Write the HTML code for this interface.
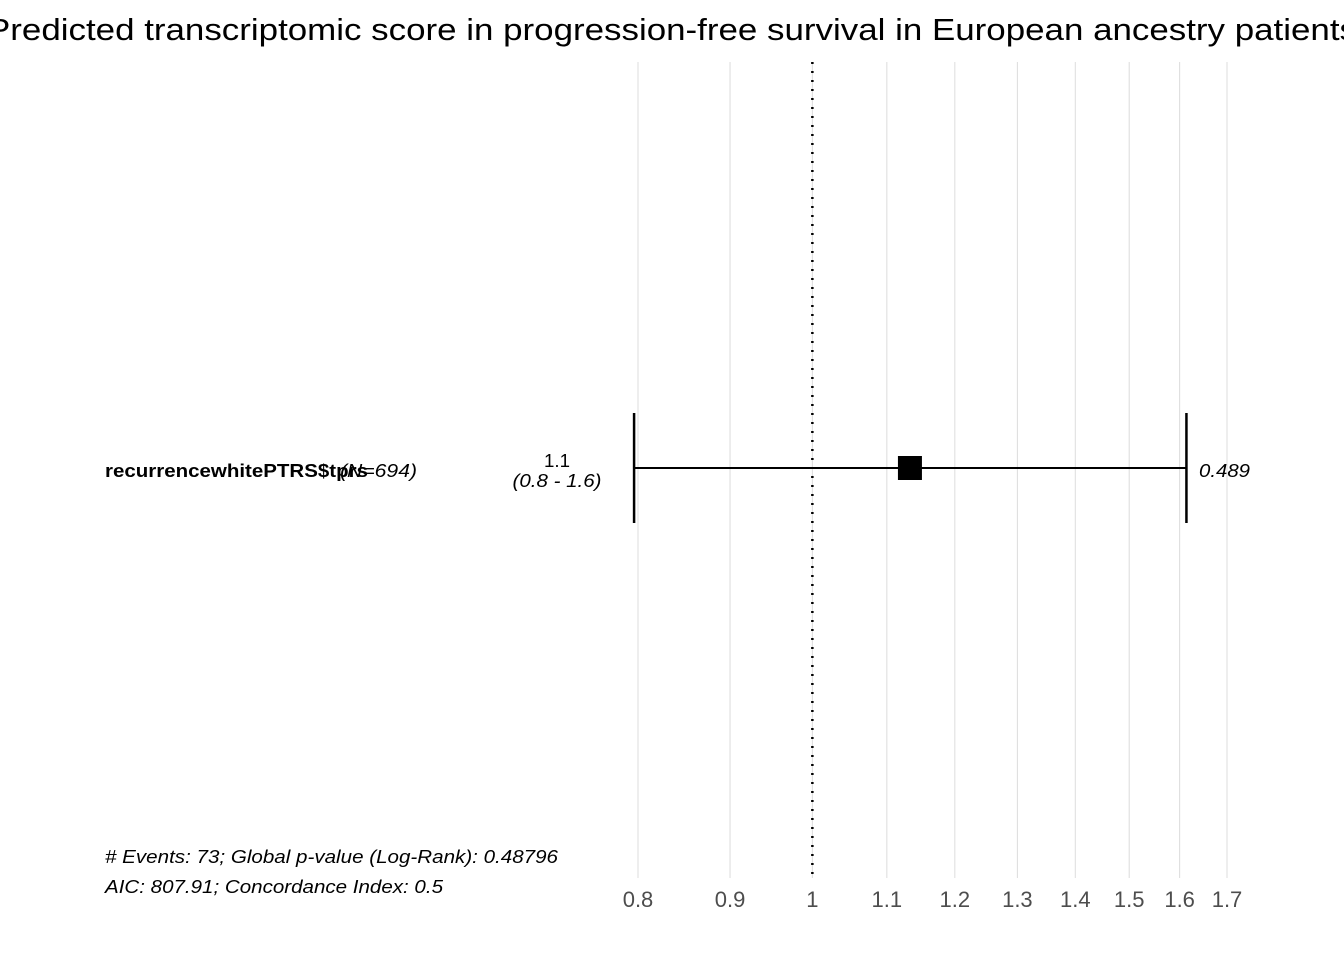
<!DOCTYPE html>
<html><head><meta charset="utf-8"><style>
html,body{margin:0;padding:0;background:#fff;}
svg{display:block;font-family:"Liberation Sans",Arial,sans-serif;}
</style></head><body>
<svg id="chart" width="1344" height="960">
<text x="672" y="40" text-anchor="middle" font-size="31" textLength="1370" lengthAdjust="spacingAndGlyphs">Predicted transcriptomic score in progression-free survival in European ancestry patients</text>
<g id="grid"></g>
<g id="marks"></g>
<text x="105" y="477" font-size="18" font-weight="bold" textLength="263" lengthAdjust="spacingAndGlyphs">recurrencewhitePTRS$tprs</text>
<text x="340" y="477" font-size="18" font-style="italic" textLength="77" lengthAdjust="spacingAndGlyphs">(N=694)</text>
<text x="557" y="467" font-size="18" text-anchor="middle" textLength="26" lengthAdjust="spacingAndGlyphs">1.1</text>
<text x="557" y="487" font-size="18" font-style="italic" text-anchor="middle" textLength="89" lengthAdjust="spacingAndGlyphs">(0.8 - 1.6)</text>
<text x="1199" y="477" font-size="18" font-style="italic" textLength="51" lengthAdjust="spacingAndGlyphs">0.489</text>
<text x="105" y="863" font-size="18" font-style="italic" textLength="453" lengthAdjust="spacingAndGlyphs"># Events: 73; Global p-value (Log-Rank): 0.48796</text>
<text x="105" y="893" font-size="18" font-style="italic" textLength="338" lengthAdjust="spacingAndGlyphs">AIC: 807.91; Concordance Index: 0.5</text>
</svg>
<script>
const ticks = [0.8, 0.9, 1, 1.1, 1.2, 1.3, 1.4, 1.5, 1.6, 1.7];
const tickLabels = ["0.8","0.9","1","1.1","1.2","1.3","1.4","1.5","1.6","1.7"];
const estimate = [1.133];
const ciLow = [0.796];
const ciHigh = [1.614];
const NS = "http://www.w3.org/2000/svg";
const x0 = 638, x1 = 1227, dmin = Math.log(0.8), dmax = Math.log(1.7);
function xs(v){ return x0 + (Math.log(v) - dmin) / (dmax - dmin) * (x1 - x0); }
function mk(tag, attrs, parent){ const e = document.createElementNS(NS, tag); for (const k in attrs) e.setAttribute(k, attrs[k]); parent.appendChild(e); return e; }
const grid = document.getElementById('grid');
const marks = document.getElementById('marks');
ticks.forEach((t, i) => {
  const gl = mk('line', {x1: xs(t), x2: xs(t), y1: 62, y2: 878, stroke: '#dcdcdc', 'stroke-width': 1}, grid);
  
  
  const tl = mk('text', {x: xs(t), y: 907, 'text-anchor': 'middle', 'font-size': 22, fill: '#4d4d4d'}, grid);
  tl.textContent = tickLabels[i];
  
  
});
const ref = mk('line', {x1: xs(1), x2: xs(1), y1: 62, y2: 878, stroke: '#000', 'stroke-width': 2.5, 'stroke-dasharray': '2,7'}, marks);


estimate.forEach((e, i) => {
  const y = 468;
  const ci = mk('line', {x1: xs(ciLow[i]), x2: xs(ciHigh[i]), y1: y, y2: y, stroke: '#000', 'stroke-width': 2}, marks);
  
  
  [ciLow[i], ciHigh[i]].forEach(v => {
    const c = mk('line', {x1: xs(v), x2: xs(v), y1: y - 55, y2: y + 55, stroke: '#000', 'stroke-width': 2.5}, marks);
    
    
  });
  const p = mk('rect', {x: xs(e) - 12, y: y - 12, width: 24, height: 24, fill: '#000'}, marks);
  
  
});
</script>
</body></html>
